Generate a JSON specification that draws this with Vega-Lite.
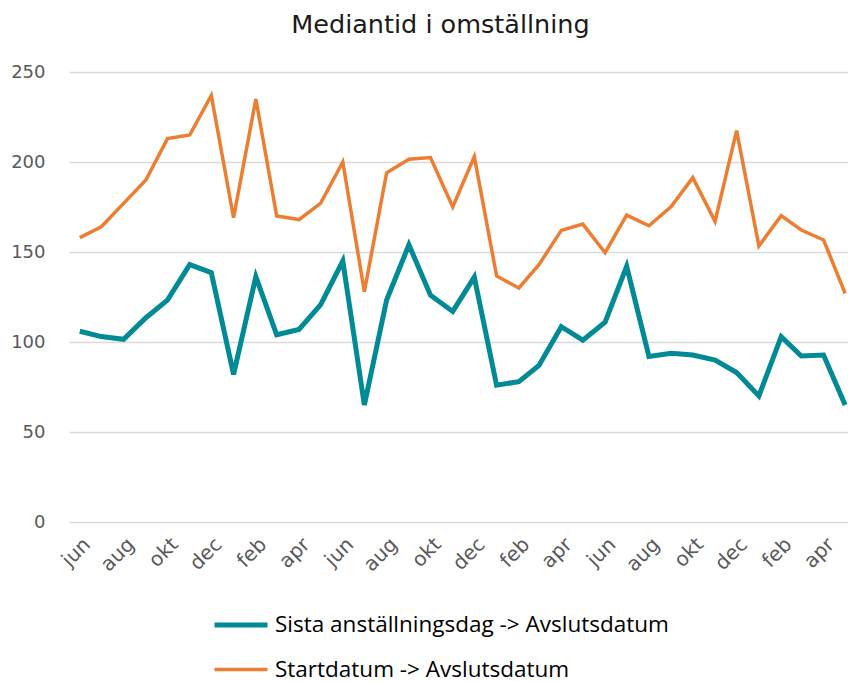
{
  "$schema": "https://vega.github.io/schema/vega-lite/v6.json",
  "width": 779,
  "height": 450,
  "autosize": {"type": "none"},
  "padding": {"left": 69, "top": 72, "right": 0, "bottom": 160},
  "background": "white",
  "title": {
    "text": "Mediantid i omställning",
    "font": "DejaVu Sans",
    "fontSize": 25.5,
    "fontWeight": "normal",
    "color": "#1a1a1a",
    "anchor": "middle",
    "dx": -18,
    "offset": 25
  },
  "config": {
    "view": {"stroke": null},
    "axis": {"labelFont": "DejaVu Sans", "labelColor": "#595959"}
  },
  "data": {
    "values": [
      {"date": "2019-06-01", "series": "Sista anställningsdag -> Avslutsdatum", "value": 106},
      {"date": "2019-07-01", "series": "Sista anställningsdag -> Avslutsdatum", "value": 103},
      {"date": "2019-08-01", "series": "Sista anställningsdag -> Avslutsdatum", "value": 101.5},
      {"date": "2019-09-01", "series": "Sista anställningsdag -> Avslutsdatum", "value": 113.5},
      {"date": "2019-10-01", "series": "Sista anställningsdag -> Avslutsdatum", "value": 123.3},
      {"date": "2019-11-01", "series": "Sista anställningsdag -> Avslutsdatum", "value": 143},
      {"date": "2019-12-01", "series": "Sista anställningsdag -> Avslutsdatum", "value": 138.5},
      {"date": "2020-01-01", "series": "Sista anställningsdag -> Avslutsdatum", "value": 82},
      {"date": "2020-02-01", "series": "Sista anställningsdag -> Avslutsdatum", "value": 136.3},
      {"date": "2020-03-01", "series": "Sista anställningsdag -> Avslutsdatum", "value": 104},
      {"date": "2020-04-01", "series": "Sista anställningsdag -> Avslutsdatum", "value": 107},
      {"date": "2020-05-01", "series": "Sista anställningsdag -> Avslutsdatum", "value": 120.6},
      {"date": "2020-06-01", "series": "Sista anställningsdag -> Avslutsdatum", "value": 145},
      {"date": "2020-07-01", "series": "Sista anställningsdag -> Avslutsdatum", "value": 65},
      {"date": "2020-08-01", "series": "Sista anställningsdag -> Avslutsdatum", "value": 123.3},
      {"date": "2020-09-01", "series": "Sista anställningsdag -> Avslutsdatum", "value": 154},
      {"date": "2020-10-01", "series": "Sista anställningsdag -> Avslutsdatum", "value": 126},
      {"date": "2020-11-01", "series": "Sista anställningsdag -> Avslutsdatum", "value": 117},
      {"date": "2020-12-01", "series": "Sista anställningsdag -> Avslutsdatum", "value": 136},
      {"date": "2021-01-01", "series": "Sista anställningsdag -> Avslutsdatum", "value": 76},
      {"date": "2021-02-01", "series": "Sista anställningsdag -> Avslutsdatum", "value": 78},
      {"date": "2021-03-01", "series": "Sista anställningsdag -> Avslutsdatum", "value": 87},
      {"date": "2021-04-01", "series": "Sista anställningsdag -> Avslutsdatum", "value": 108.5},
      {"date": "2021-05-01", "series": "Sista anställningsdag -> Avslutsdatum", "value": 101},
      {"date": "2021-06-01", "series": "Sista anställningsdag -> Avslutsdatum", "value": 111},
      {"date": "2021-07-01", "series": "Sista anställningsdag -> Avslutsdatum", "value": 142},
      {"date": "2021-08-01", "series": "Sista anställningsdag -> Avslutsdatum", "value": 92},
      {"date": "2021-09-01", "series": "Sista anställningsdag -> Avslutsdatum", "value": 93.7},
      {"date": "2021-10-01", "series": "Sista anställningsdag -> Avslutsdatum", "value": 92.8},
      {"date": "2021-11-01", "series": "Sista anställningsdag -> Avslutsdatum", "value": 90},
      {"date": "2021-12-01", "series": "Sista anställningsdag -> Avslutsdatum", "value": 83},
      {"date": "2022-01-01", "series": "Sista anställningsdag -> Avslutsdatum", "value": 70},
      {"date": "2022-02-01", "series": "Sista anställningsdag -> Avslutsdatum", "value": 103},
      {"date": "2022-03-01", "series": "Sista anställningsdag -> Avslutsdatum", "value": 92.2},
      {"date": "2022-04-01", "series": "Sista anställningsdag -> Avslutsdatum", "value": 92.8},
      {"date": "2022-05-01", "series": "Sista anställningsdag -> Avslutsdatum", "value": 65},
      {"date": "2019-06-01", "series": "Startdatum -> Avslutsdatum", "value": 158},
      {"date": "2019-07-01", "series": "Startdatum -> Avslutsdatum", "value": 164},
      {"date": "2019-08-01", "series": "Startdatum -> Avslutsdatum", "value": 177},
      {"date": "2019-09-01", "series": "Startdatum -> Avslutsdatum", "value": 190},
      {"date": "2019-10-01", "series": "Startdatum -> Avslutsdatum", "value": 213},
      {"date": "2019-11-01", "series": "Startdatum -> Avslutsdatum", "value": 215},
      {"date": "2019-12-01", "series": "Startdatum -> Avslutsdatum", "value": 237},
      {"date": "2020-01-01", "series": "Startdatum -> Avslutsdatum", "value": 169},
      {"date": "2020-02-01", "series": "Startdatum -> Avslutsdatum", "value": 235},
      {"date": "2020-03-01", "series": "Startdatum -> Avslutsdatum", "value": 170},
      {"date": "2020-04-01", "series": "Startdatum -> Avslutsdatum", "value": 168},
      {"date": "2020-05-01", "series": "Startdatum -> Avslutsdatum", "value": 177},
      {"date": "2020-06-01", "series": "Startdatum -> Avslutsdatum", "value": 200},
      {"date": "2020-07-01", "series": "Startdatum -> Avslutsdatum", "value": 128},
      {"date": "2020-08-01", "series": "Startdatum -> Avslutsdatum", "value": 194},
      {"date": "2020-09-01", "series": "Startdatum -> Avslutsdatum", "value": 201.5},
      {"date": "2020-10-01", "series": "Startdatum -> Avslutsdatum", "value": 202.5},
      {"date": "2020-11-01", "series": "Startdatum -> Avslutsdatum", "value": 175},
      {"date": "2020-12-01", "series": "Startdatum -> Avslutsdatum", "value": 203},
      {"date": "2021-01-01", "series": "Startdatum -> Avslutsdatum", "value": 136.7},
      {"date": "2021-02-01", "series": "Startdatum -> Avslutsdatum", "value": 130},
      {"date": "2021-03-01", "series": "Startdatum -> Avslutsdatum", "value": 143},
      {"date": "2021-04-01", "series": "Startdatum -> Avslutsdatum", "value": 162},
      {"date": "2021-05-01", "series": "Startdatum -> Avslutsdatum", "value": 165.5},
      {"date": "2021-06-01", "series": "Startdatum -> Avslutsdatum", "value": 149.6},
      {"date": "2021-07-01", "series": "Startdatum -> Avslutsdatum", "value": 170.5},
      {"date": "2021-08-01", "series": "Startdatum -> Avslutsdatum", "value": 164.6},
      {"date": "2021-09-01", "series": "Startdatum -> Avslutsdatum", "value": 175.2},
      {"date": "2021-10-01", "series": "Startdatum -> Avslutsdatum", "value": 191.3},
      {"date": "2021-11-01", "series": "Startdatum -> Avslutsdatum", "value": 167},
      {"date": "2021-12-01", "series": "Startdatum -> Avslutsdatum", "value": 217.4},
      {"date": "2022-01-01", "series": "Startdatum -> Avslutsdatum", "value": 153.3},
      {"date": "2022-02-01", "series": "Startdatum -> Avslutsdatum", "value": 170.2},
      {"date": "2022-03-01", "series": "Startdatum -> Avslutsdatum", "value": 162.2},
      {"date": "2022-04-01", "series": "Startdatum -> Avslutsdatum", "value": 156.7},
      {"date": "2022-05-01", "series": "Startdatum -> Avslutsdatum", "value": 127}
    ]
  },
  "mark": {"type": "line", "strokeJoin": "miter", "strokeCap": "butt"},
  "encoding": {
    "x": {
      "field": "date",
      "type": "temporal",
      "scale": {
        "type": "utc",
        "domain": [
          {"year": 2019, "month": 5, "date": 17, "utc": true},
          {"year": 2022, "month": 5, "date": 5, "utc": true}
        ]
      },
      "axis": {
        "title": null,
        "grid": false,
        "domain": false,
        "ticks": false,
        "labelAngle": -45,
        "labelFontSize": 20,
        "labelPadding": 12,
        "labelDx": -13,
        "labelFlush": false,
        "labelOverlap": false,
        "labelExpr": "['jan','feb','mar','apr','maj','jun','jul','aug','sep','okt','nov','dec'][utcmonth(datum.value)]",
        "values": [
          {"year": 2019, "month": 6, "date": 1, "utc": true},
          {"year": 2019, "month": 8, "date": 1, "utc": true},
          {"year": 2019, "month": 10, "date": 1, "utc": true},
          {"year": 2019, "month": 12, "date": 1, "utc": true},
          {"year": 2020, "month": 2, "date": 1, "utc": true},
          {"year": 2020, "month": 4, "date": 1, "utc": true},
          {"year": 2020, "month": 6, "date": 1, "utc": true},
          {"year": 2020, "month": 8, "date": 1, "utc": true},
          {"year": 2020, "month": 10, "date": 1, "utc": true},
          {"year": 2020, "month": 12, "date": 1, "utc": true},
          {"year": 2021, "month": 2, "date": 1, "utc": true},
          {"year": 2021, "month": 4, "date": 1, "utc": true},
          {"year": 2021, "month": 6, "date": 1, "utc": true},
          {"year": 2021, "month": 8, "date": 1, "utc": true},
          {"year": 2021, "month": 10, "date": 1, "utc": true},
          {"year": 2021, "month": 12, "date": 1, "utc": true},
          {"year": 2022, "month": 2, "date": 1, "utc": true},
          {"year": 2022, "month": 4, "date": 1, "utc": true}
        ]
      }
    },
    "y": {
      "field": "value",
      "type": "quantitative",
      "scale": {"domain": [0, 250], "nice": false},
      "axis": {
        "title": null,
        "values": [0, 50, 100, 150, 200, 250],
        "domain": false,
        "ticks": false,
        "gridColor": "#d9d9d9",
        "gridWidth": 1.5,
        "labelFontSize": 18,
        "labelPadding": 24
      }
    },
    "color": {
      "field": "series",
      "type": "nominal",
      "scale": {
        "domain": ["Sista anställningsdag -> Avslutsdatum", "Startdatum -> Avslutsdatum"],
        "range": ["#008A96", "#ED7D31"]
      },
      "legend": {
        "orient": "none",
        "legendX": 143,
        "legendY": 524,
        "direction": "vertical",
        "title": null,
        "symbolType": "stroke",
        "symbolSize": 2809,
        "symbolStrokeWidth": 4.5,
        "labelFont": "Open Sans",
        "labelFontSize": 22.5,
        "labelColor": "#000000",
        "labelLimit": 600,
        "labelOffset": 5,
        "rowPadding": 4
      }
    },
    "strokeWidth": {
      "field": "series",
      "type": "nominal",
      "scale": {
        "domain": ["Sista anställningsdag -> Avslutsdatum", "Startdatum -> Avslutsdatum"],
        "range": [5, 3.5]
      },
      "legend": null
    }
  }
}
